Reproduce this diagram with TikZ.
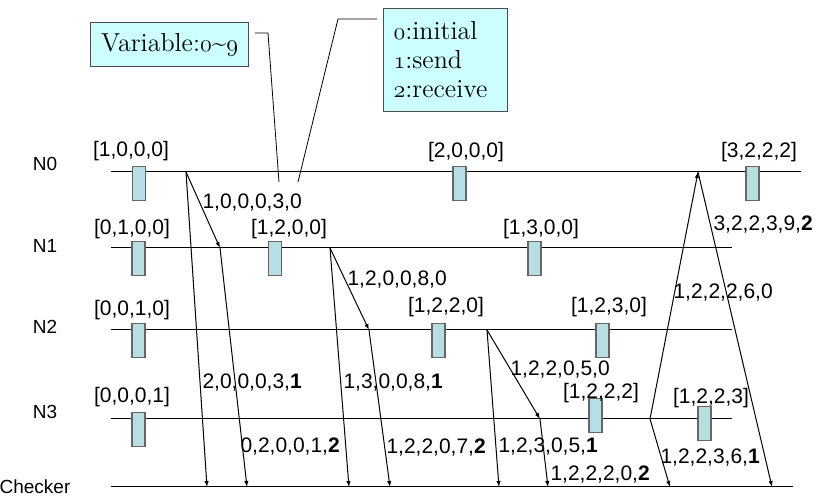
\documentclass[tikz,border=0pt]{standalone}
\usepackage{fontspec}
\setsansfont{Liberation Sans}
\usetikzlibrary{arrows.meta}
\definecolor{eventfill}{HTML}{B7DEE2}
\definecolor{notefill}{HTML}{CCFFFF}
% old style figures for the notes
\newcommand{\osnum}[1]{{\usefont{OML}{cmm}{m}{it}#1}}
\tikzset{>={Latex[length=3pt, width=2.2pt]},
  event/.style={draw=black!60, fill=eventfill, line width=0.6pt, minimum width=6.5pt, minimum height=17pt, inner sep=0pt, anchor=north},
  vclock/.style={font=\sffamily\fontsize{10.5}{12}\selectfont, inner sep=0pt},
  msg/.style={font=\sffamily\fontsize{10.5}{12}\selectfont, inner sep=0pt, anchor=west},
  proc/.style={font=\sffamily\fontsize{9.5}{11}\selectfont, inner sep=0pt},
  note/.style={draw=black!70, fill=notefill, line width=0.6pt, anchor=north west, font=\fontsize{13}{14.5}\selectfont}}

\begin{document}
\begin{tikzpicture}[x=0.5pt, y=-0.5pt, line width=0.5pt]
\useasboundingbox (0,0) rectangle (821,497);

% process lines
\node [proc] (n0) at (45,164) {N0};
\node [proc] (n1) at (45,246) {N1};
\node [proc] (n2) at (45,327) {N2};
\node [proc] (n3) at (45,412) {N3};
\node [proc] (chk) at (35,487) {Checker};
\draw (111,172) -- (801,172);
\draw (111,248) -- (732,248);
\draw (111,330) -- (732,330);
\draw (111,419) -- (732,419);
\draw (111,487) -- (793,487);

% local events
\node [event] (e00) at (139,166) {};
\node [event] (e01) at (459.5,166) {};
\node [event] (e02) at (752.5,166) {};
\node [event] (e10) at (138.5,241) {};
\node [event] (e11) at (275,241) {};
\node [event] (e12) at (534.5,241) {};
\node [event] (e20) at (138.5,323) {};
\node [event] (e21) at (438.5,323) {};
\node [event] (e22) at (602.5,323) {};
\node [event] (e30) at (138.5,412) {};
\node [event] (e31) at (595.5,398) {};
\node [event] (e32) at (704.5,406) {};

% vector clocks
\node [vclock] (v00) at (131,151) {[1,0,0,0]};
\node [vclock] (v01) at (466,152) {[2,0,0,0]};
\node [vclock] (v02) at (759,152) {[3,2,2,2]};
\node [vclock] (v10) at (132,229) {[0,1,0,0]};
\node [vclock] (v11) at (289,229) {[1,2,0,0]};
\node [vclock] (v12) at (541,229) {[1,3,0,0]};
\node [vclock] (v20) at (132,310) {[0,0,1,0]};
\node [vclock] (v21) at (446,307) {[1,2,2,0]};
\node [vclock] (v22) at (609,307) {[1,2,3,0]};
\node [vclock] (v30) at (132,397) {[0,0,0,1]};
\node [vclock] (v31) at (601,393) {[1,2,2,2]};
\node [vclock] (v32) at (711,398) {[1,2,2,3]};

% send / receive points
\coordinate (s1) at (186,172);
\coordinate (r1) at (220,248);
\coordinate (s4) at (330,248);
\coordinate (r4) at (369,330);
\coordinate (s7) at (487,330);
\coordinate (r7) at (540,419);
\coordinate (s10) at (650,419);
\coordinate (r10) at (698,172);
\coordinate (c2) at (207,487);
\coordinate (c3) at (247,487);
\coordinate (c5) at (349,487);
\coordinate (c6) at (390,487);
\coordinate (c8) at (499,487);
\coordinate (c9) at (548,487);
\coordinate (c11) at (670,487);
\coordinate (c12) at (772,487);

\draw [->] (s1) -- (r1);
\draw [->] (s1) -- (c2);
\draw [->] (r1) -- (c3);
\draw [->] (s4) -- (r4);
\draw [->] (s4) -- (c5);
\draw [->] (r4) -- (c6);
\draw [->] (s7) -- (r7);
\draw [->] (s7) -- (c8);
\draw [->] (r7) -- (c9);
\draw [->] (s10) -- (r10);
\draw [->] (s10) -- (c11);
\draw [->] (r10) -- (c12);

% message contents
\node [msg] (m1) at (202,203) {1,0,0,0,3,0};
\node [msg] (m2) at (202,383) {2,0,0,0,3,\textbf{1}};
\node [msg] (m3) at (240,447) {0,2,0,0,1,\textbf{2}};
\node [msg] (m4) at (347,280) {1,2,0,0,8,0};
\node [msg] (m5) at (343,383) {1,3,0,0,8,\textbf{1}};
\node [msg] (m6) at (386,448) {1,2,2,0,7,\textbf{2}};
\node [msg] (m7) at (510,370) {1,2,2,0,5,0};
\node [msg] (m8) at (498,447) {1,2,3,0,5,\textbf{1}};
\node [msg] (m9) at (550,475) {1,2,2,2,0,\textbf{2}};
\node [msg] (m10) at (673,293) {1,2,2,2,6,0};
\node [msg] (m11) at (660,458) {1,2,2,3,6,\textbf{1}};
\node [msg] (m12) at (713,225) {3,2,2,3,9,\textbf{2}};

% notes
\node [note, minimum width=79pt, minimum height=22pt, inner sep=0pt] (var) at (90,22) {Variable:\osnum{0}\textasciitilde\osnum{9}};
\node [note, text width=52pt, inner xsep=5pt, minimum height=51.5pt, align=left] (kind) at (383,8) {\osnum{0}:initial\\ \osnum{1}:send\\ \osnum{2}:receive};
\coordinate (va) at (255,33);
\coordinate (vb) at (268,33);
\coordinate (vc) at (279,182);
\coordinate (ka) at (377,19);
\coordinate (kb) at (338,19);
\coordinate (kc) at (298,182);
\draw [line width=0.4pt] (va) -- (vb) -- (vc);
\draw [line width=0.4pt] (ka) -- (kb) -- (kc);
\end{tikzpicture}
\end{document}
